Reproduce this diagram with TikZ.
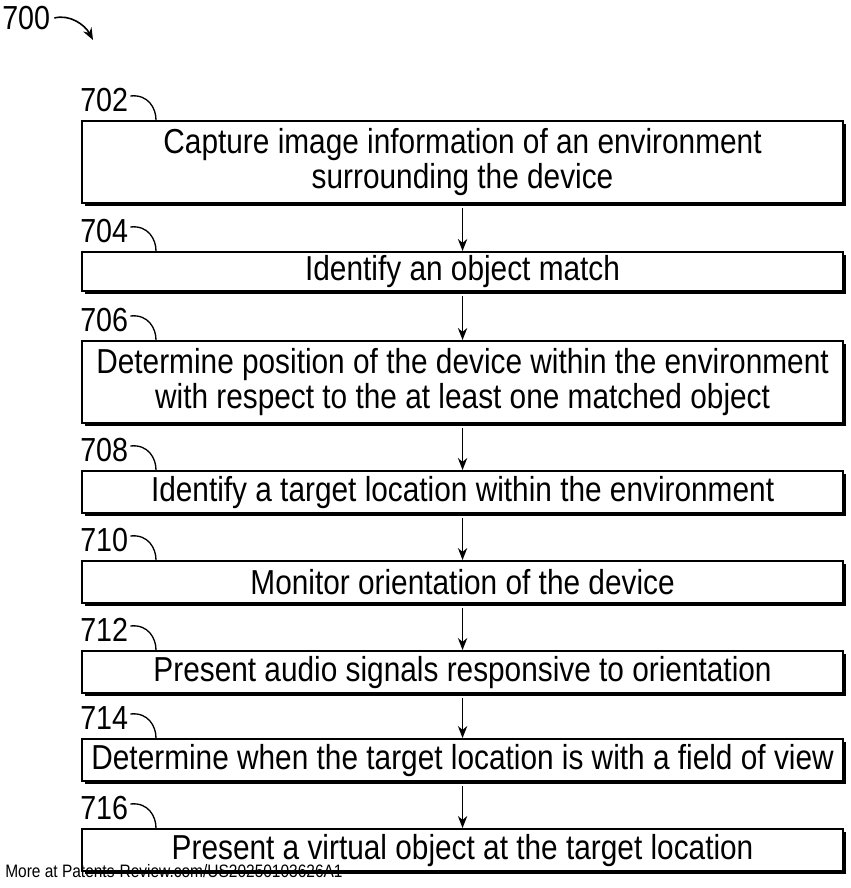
\documentclass[tikz,border=0pt]{standalone}
\usepackage{fontspec}
\setmainfont[FakeStretch=0.86]{Liberation Sans}
\usetikzlibrary{arrows.meta}
\begin{document}
\begin{tikzpicture}[x=0.75pt,y=-0.75pt,
  box/.style={draw,line width=1.6pt,fill=white,minimum width=761*0.75pt,inner sep=0pt,align=center,font=\fontsize{26pt}{26.5pt}\selectfont},
  lab/.style={font=\fontsize{25pt}{26pt}\selectfont,inner sep=0pt},
  arr/.style={-{Stealth[length=9pt,width=7pt]},line width=1pt}]
\useasboundingbox (0,0) rectangle (850,888);
\def\bx#1#2#3#4#5{%
  \fill (85,#3+4) rectangle (846,#4+4);
  \node[box,minimum height=(#4-#3)*0.75pt,anchor=north west] (#1) at (81,#3) {#5};
  \node[lab,anchor=west] (l#1) at (80,#3-20) {#2};
  \draw[line width=1pt] (l#1.east) ++(2,-4) .. controls (148,#3-26) and (156,#3-12) .. (156,#3);
}
\bx{a}{702}{120}{202}{Capture image information of an environment\\surrounding the device}
\bx{b}{704}{251}{290}{Identify an object match}
\bx{c}{706}{340}{422}{Determine position of the device within the environment\\with respect to the at least one matched object}
\bx{d}{708}{470}{512}{Identify a target location within the environment}
\bx{e}{710}{560}{602}{Monitor orientation of the device}
\bx{f}{712}{650}{692}{Present audio signals responsive to orientation}
\bx{g}{714}{738}{780}{Determine when the target location is with a field of view}
\bx{h}{716}{828}{870}{Present a virtual object at the target location}
\foreach \u/\v in {a/b,b/c,c/d,d/e,e/f,f/g,g/h}
  \draw[arr] ([yshift=-3pt]\u.south) -- (\v.north);
\node[lab,anchor=west] (t) at (2,18) {700};
\coordinate (te) at (93,40);
\draw[line width=1.2pt,-{Stealth[length=9pt,width=7pt]}] (t.east) ++(4,0) .. controls (70,14) and (85,25) .. (te);
\node[anchor=west,inner sep=0pt,font=\fontsize{13.5pt}{14pt}\selectfont] (w) at (5,871) {More at Patents-Review.com/US20250103626A1};
\end{tikzpicture}
\end{document}
